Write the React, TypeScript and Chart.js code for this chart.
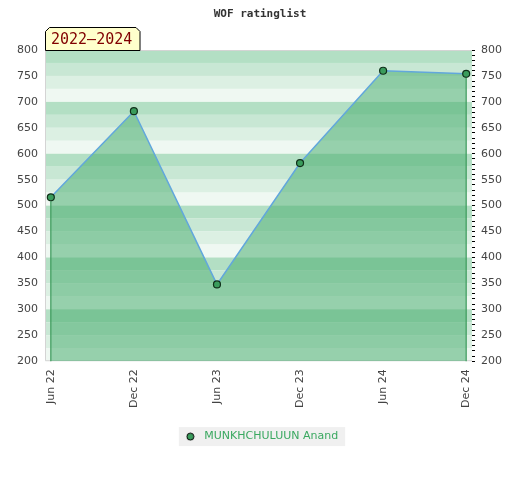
import { useEffect, useRef } from 'react';
import { Chart, registerables } from 'chart.js';

Chart.register(...registerables);

const periods = ['Jun 22', 'Dec 22', 'Jun 23', 'Dec 23', 'Jun 24', 'Dec 24'];
const ratings = [516, 682, 348, 582, 760, 754];
const seriesName = 'MUNKHCHULUUN Anand';
const chartTitle = 'WOF ratinglist';
const rangeLabel = '2022–2024';
const yMin = 200;
const yMax = 800;
// colour of a 25-point band, indexed by (band top mod 100) / 25
const bandColors = ['#b3dfc4', '#eff8f2', '#dcf0e3', '#c8e7d4'];

const bandsPlugin = {
  id: 'bands',
  beforeDraw(chart: any) {
    const { ctx } = chart;
    const legend = chart.legend;
    if (legend && legend.legendHitBoxes && legend.legendHitBoxes[0]) {
      const hb = legend.legendHitBoxes[0];
      ctx.save();
      ctx.fillStyle = '#f0f0f0';
      ctx.fillRect(hb.left - 3, hb.top + hb.height / 2 - 9.5, hb.width + 10, 19);
      ctx.restore();
    }
  },
  beforeDatasetsDraw(chart: any) {
    const { ctx, chartArea: a, scales } = chart;
    const y = scales.y;
    ctx.save();
    for (let t = yMax; t > yMin; t -= 25) {
      const top = y.getPixelForValue(t);
      const bot = y.getPixelForValue(t - 25);
      ctx.fillStyle = bandColors[(t % 100) / 25];
      ctx.fillRect(a.left, top, a.right - a.left, bot - top);
    }
    ctx.strokeStyle = '#d4d4d4';
    ctx.lineWidth = 1;
    ctx.beginPath();
    ctx.moveTo(a.right, a.top + 0.5);
    ctx.lineTo(a.left + 0.5, a.top + 0.5);
    ctx.lineTo(a.left + 0.5, a.bottom - 0.5);
    ctx.lineTo(a.right, a.bottom - 0.5);
    ctx.stroke();
    ctx.restore();
  },
  afterDatasetsDraw(chart: any) {
    const { ctx, chartArea: a } = chart;
    const pts = chart.getDatasetMeta(0).data;
    ctx.save();
    ctx.strokeStyle = '#3a9a5a';
    ctx.lineWidth = 1.2;
    [pts[0], pts[pts.length - 1]].forEach((p: any) => {
      ctx.beginPath();
      ctx.moveTo(p.x, p.y + 4);
      ctx.lineTo(p.x, a.bottom);
      ctx.stroke();
    });
    ctx.restore();
  },
  afterDraw(chart: any) {
    const { ctx, chartArea: a } = chart;
    const x0 = a.left;
    const y1 = a.top + 0.5;
    const w = 95;
    const h = 23;
    const c = 4;
    ctx.save();
    ctx.beginPath();
    ctx.moveTo(x0 + 0.5, y1);
    ctx.lineTo(x0 + 0.5, y1 - h + c);
    ctx.lineTo(x0 + 0.5 + c, y1 - h);
    ctx.lineTo(x0 + w - c, y1 - h);
    ctx.lineTo(x0 + w, y1 - h + c);
    ctx.lineTo(x0 + w, y1);
    ctx.closePath();
    ctx.fillStyle = '#ffffcc';
    ctx.fill();
    ctx.strokeStyle = '#000';
    ctx.lineWidth = 1;
    ctx.stroke();
    ctx.fillStyle = '#800000';
    ctx.font = '15px "DejaVu Sans Mono"';
    ctx.textBaseline = 'middle';
    ctx.textAlign = 'left';
    ctx.fillText(rangeLabel, x0 + 6, y1 - h / 2 + 1);
    ctx.restore();
  },
};

export default function App() {
  const ref = useRef<HTMLCanvasElement | null>(null);
  useEffect(() => {
    if (!ref.current) return;
    const dot = document.createElement('canvas');
    dot.width = 9;
    dot.height = 9;
    const dctx = dot.getContext('2d')!;
    dctx.beginPath();
    dctx.arc(4.5, 4.5, 3.5, 0, Math.PI * 2);
    dctx.fillStyle = '#3a9c5c';
    dctx.fill();
    dctx.strokeStyle = '#000';
    dctx.lineWidth = 1;
    dctx.stroke();

    const font = { family: 'DejaVu Sans', size: 11 };
    const chart = new Chart(ref.current, {
      type: 'line',
      data: {
        datasets: [
          {
            label: seriesName,
            data: ratings.map((v, i) => ({ x: i, y: v })),
            borderColor: '#62a7dc',
            borderWidth: 1.5,
            backgroundColor: 'rgba(72,172,109,0.53)',
            fill: 'start',
            pointRadius: 3.5,
            pointHoverRadius: 3.5,
            pointBackgroundColor: '#3a9c5c',
            pointBorderColor: '#10301a',
            pointBorderWidth: 1.2,
            tension: 0,
            yAxisID: 'y',
          },
        ],
      },
      options: {
        responsive: false,
        animation: false,
        layout: { padding: { bottom: 27.9, left: 0, right: 0, top: 0 } },
        plugins: {
          title: {
            display: true,
            text: chartTitle,
            color: '#333',
            font: { family: 'DejaVu Sans Mono', size: 11, weight: 'bold' },
            padding: { top: 7.4, bottom: 29.4 },
          },
          legend: {
            position: 'bottom',
            labels: {
              usePointStyle: true,
              pointStyle: dot as any,
              pointStyleWidth: 17,
              color: '#3aa860',
              font,
              padding: 6,
            },
          },
          tooltip: { enabled: false },
        },
        scales: {
          x: {
            type: 'linear',
            min: -0.07,
            max: 5.07,
            afterBuildTicks: (s: any) => {
              s.ticks = periods.map((_, i) => ({ value: i }));
            },
            afterFit: (s: any) => {
              s.height = 63.9;
            },
            grid: { display: false, drawTicks: false },
            border: { display: false },
            ticks: {
              callback: (v: any) => periods[v] ?? '',
              minRotation: 90,
              maxRotation: 90,
              autoSkip: false,
              padding: 8,
              color: '#444',
              font,
            },
          },
          y: {
            position: 'left',
            min: yMin,
            max: yMax,
            afterFit: (s: any) => {
              s.width = 45;
            },
            grid: { display: false, drawTicks: false },
            border: { display: false },
            ticks: { stepSize: 50, padding: 7, color: '#444', font },
          },
          y2: {
            position: 'right',
            min: yMin,
            max: yMax,
            afterFit: (s: any) => {
              s.width = 48;
            },
            grid: { drawOnChartArea: false, drawTicks: true, tickLength: 3, color: '#000', lineWidth: 1 },
            border: { display: false },
            ticks: {
              stepSize: 10,
              autoSkip: false,
              callback: (v: any) => (v % 50 === 0 ? String(v) : ''),
              padding: 6,
              color: '#444',
              font,
            },
          },
        },
      },
      plugins: [bandsPlugin],
    } as any);
    return () => chart.destroy();
  }, []);

  return (
    <div style={{ position: 'absolute', left: 0, top: 0, width: 520, height: 480, background: '#fff' }}>
      <canvas ref={ref} width={520} height={480} />
    </div>
  );
}
